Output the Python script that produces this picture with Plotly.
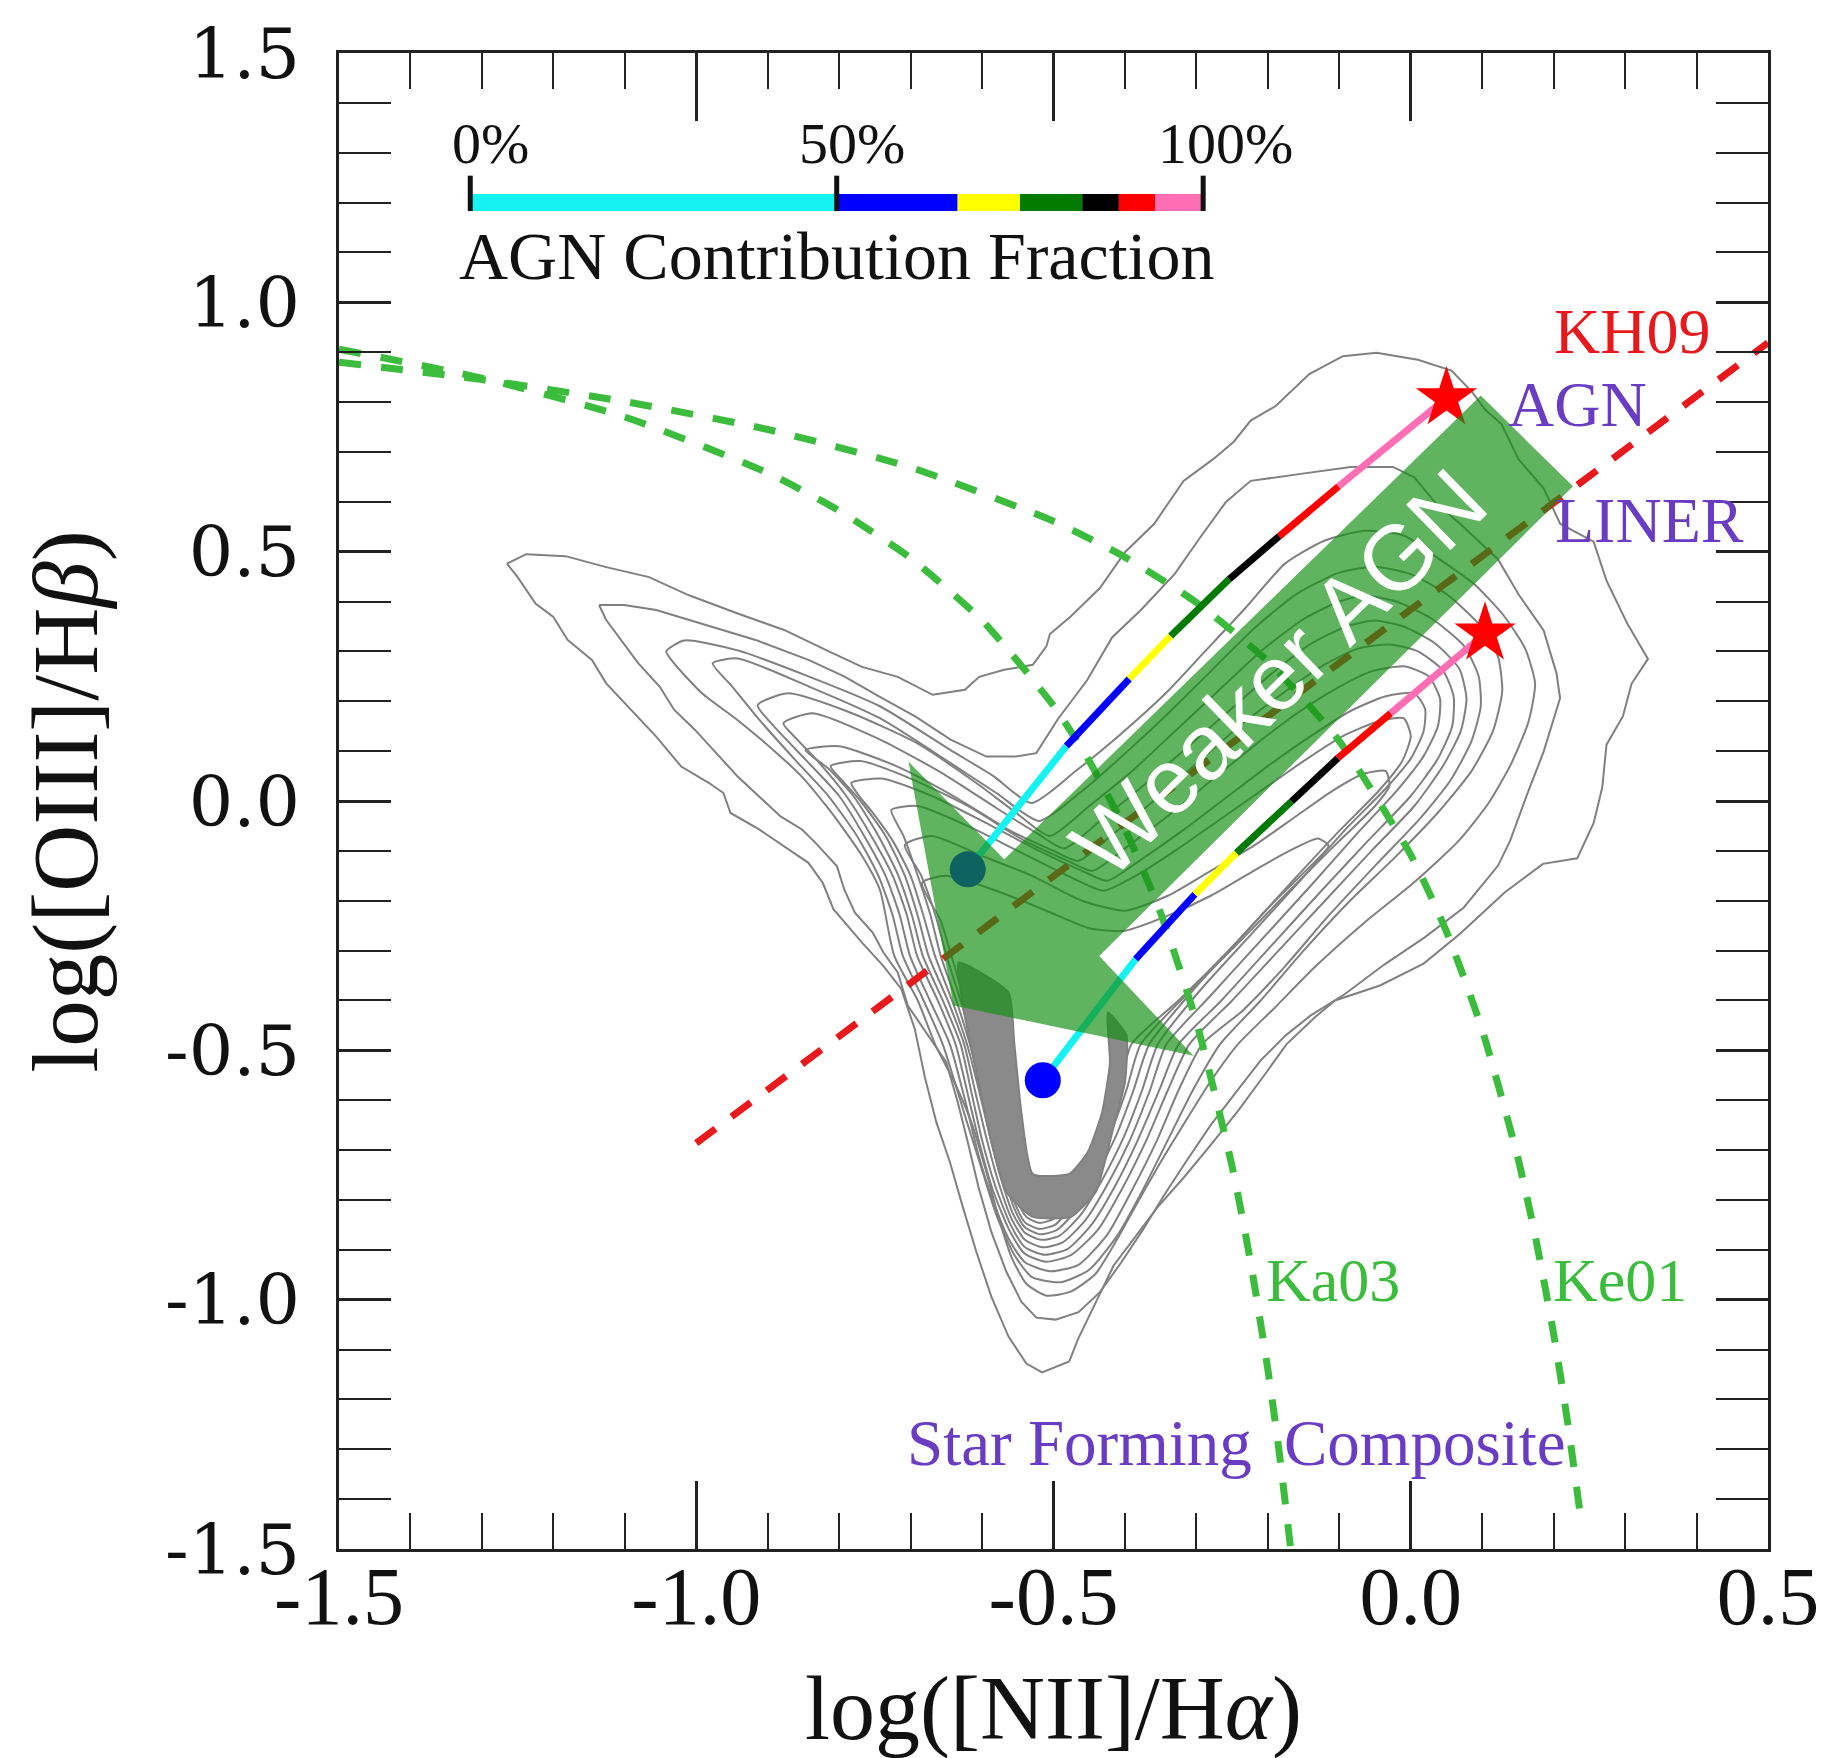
import plotly.graph_objects as go

# ---------------- data ----------------
# Kauffmann 2003 (Ka03) demarcation
ka03_x = [-1.5, -1.3, -1.1, -0.9, -0.8, -0.7, -0.6, -0.5, -0.45, -0.4, -0.35, -0.3, -0.25, -0.225, -0.2, -0.185, -0.168]
ka03_y = [0.906, 0.848, 0.770, 0.658, 0.582, 0.487, 0.362, 0.191, 0.080, -0.056, -0.225, -0.443, -0.733, -0.918, -1.140, -1.296, -1.500]
# Kewley 2001 (Ke01)
ke01_x = [-1.5, -1.3, -1.1, -0.9, -0.7, -0.5, -0.4, -0.3, -0.2, -0.1, 0.0, 0.05, 0.1, 0.15, 0.175, 0.2, 0.22, 0.238]
ke01_y = [0.880, 0.845, 0.801, 0.745, 0.669, 0.561, 0.489, 0.398, 0.280, 0.120, -0.108, -0.262, -0.459, -0.716, -0.878, -1.069, -1.250, -1.439]
# KH09 AGN / LINER division
kh09_x = [-1.0, 0.5]
kh09_y = [-0.686, 0.919]

# AGN contribution fraction (%) at colour changes, and colours
frac_stops = [0, 50, 66.5, 75, 83.5, 88.5, 93.5, 100]
frac_colors = ['#14f2f2', '#0000ff', '#ffff00', '#007a00', '#000000', '#ff0000', '#ff6eb4']
frac_ticks = [0, 50, 100]
frac_labels = ['0%', '50%', '100%']

# mixing sequence 1 (star-forming point -> AGN star), points at colour changes
mix1_x = [-0.620, -0.482, -0.394, -0.336, -0.254, -0.184, -0.101, 0.050]
mix1_y = [-0.137, 0.110, 0.245, 0.331, 0.445, 0.531, 0.631, 0.808]
# mixing sequence 2
mix2_x = [-0.515, -0.385, -0.302, -0.244, -0.167, -0.102, -0.028, 0.104]
mix2_y = [-0.560, -0.317, -0.187, -0.104, -0.001, 0.086, 0.176, 0.336]

# galaxy density contours, outermost first, as (x, y)
c1 = [(-1.265, 0.476), (-1.238, 0.495), (-1.183, 0.491), (-1.126, 0.469), (-1.066, 0.449), (-1.011, 0.413),
      (-0.942, 0.376), (-0.877, 0.343), (-0.813, 0.299), (-0.768, 0.269), (-0.718, 0.249), (-0.669, 0.213),
      (-0.624, 0.223), (-0.604, 0.249), (-0.569, 0.263), (-0.529, 0.273), (-0.510, 0.310), (-0.505, 0.335),
      (-0.476, 0.370), (-0.435, 0.427), (-0.400, 0.499), (-0.359, 0.556), (-0.318, 0.642), (-0.277, 0.685),
      (-0.248, 0.720), (-0.224, 0.763), (-0.189, 0.792), (-0.142, 0.856), (-0.095, 0.892), (-0.048, 0.899),
      (0.010, 0.885), (0.057, 0.863), (0.086, 0.820), (0.104, 0.785), (0.127, 0.756), (0.151, 0.685),
      (0.186, 0.627), (0.209, 0.556), (0.256, 0.520), (0.274, 0.442), (0.303, 0.356), (0.332, 0.285),
      (0.309, 0.235), (0.297, 0.170), (0.274, 0.113), (0.268, 0.027), (0.256, -0.044), (0.233, -0.115),
      (0.185, -0.126), (0.131, -0.184), (0.069, -0.266), (0.018, -0.326), (-0.043, -0.370), (-0.106, -0.400),
      (-0.136, -0.436), (-0.174, -0.488), (-0.204, -0.548), (-0.242, -0.622), (-0.279, -0.688), (-0.317, -0.754),
      (-0.354, -0.814), (-0.385, -0.872), (-0.416, -0.932), (-0.441, -1.006), (-0.466, -1.080), (-0.478, -1.124),
      (-0.516, -1.146), (-0.538, -1.128), (-0.563, -1.074), (-0.587, -0.994), (-0.608, -0.904), (-0.627, -0.814),
      (-0.645, -0.724), (-0.664, -0.644), (-0.680, -0.554), (-0.694, -0.458), (-0.713, -0.377), (-0.738, -0.331),
      (-0.768, -0.284), (-0.808, -0.217), (-0.823, -0.164), (-0.843, -0.124), (-0.877, -0.091), (-0.912, -0.057),
      (-0.952, -0.024), (-0.962, 0.016), (-0.982, 0.036), (-1.021, 0.069), (-1.056, 0.129), (-1.091, 0.183),
      (-1.126, 0.236), (-1.146, 0.283), (-1.180, 0.323), (-1.200, 0.369), (-1.225, 0.396), (-1.250, 0.449),
      (-1.265, 0.476)]
c2 = [(-1.136, 0.393), (-1.101, 0.393), (-1.056, 0.383), (-0.992, 0.356), (-0.917, 0.323), (-0.843, 0.283),
      (-0.793, 0.250), (-0.743, 0.209), (-0.693, 0.169), (-0.644, 0.123), (-0.594, 0.089), (-0.554, 0.089),
      (-0.524, 0.096), (-0.494, 0.164), (-0.453, 0.242), (-0.418, 0.328), (-0.377, 0.384), (-0.330, 0.456),
      (-0.295, 0.528), (-0.259, 0.599), (-0.224, 0.642), (-0.154, 0.656), (-0.084, 0.670), (-0.025, 0.670),
      (0.005, 0.649), (0.034, 0.599), (0.069, 0.556), (0.122, 0.485), (0.151, 0.414), (0.186, 0.342),
      (0.204, 0.256), (0.209, 0.206), (0.186, 0.099), (0.163, 0.014), (0.139, -0.080), (0.122, -0.130),
      (0.074, -0.214), (0.019, -0.274), (-0.037, -0.328), (-0.093, -0.388), (-0.140, -0.430), (-0.175, -0.470),
      (-0.210, -0.520), (-0.245, -0.585), (-0.280, -0.650), (-0.313, -0.720), (-0.345, -0.790), (-0.375, -0.860),
      (-0.405, -0.925), (-0.435, -0.985), (-0.465, -1.025), (-0.497, -1.040), (-0.524, -1.036), (-0.545, -1.004),
      (-0.566, -0.944), (-0.587, -0.864), (-0.605, -0.774), (-0.620, -0.684), (-0.634, -0.604), (-0.650, -0.524),
      (-0.680, -0.460), (-0.704, -0.410), (-0.718, -0.344), (-0.738, -0.304), (-0.753, -0.264), (-0.778, -0.224),
      (-0.793, -0.177), (-0.803, -0.131), (-0.833, -0.084), (-0.852, -0.057), (-0.882, -0.031), (-0.912, 0.009),
      (-0.942, 0.049), (-0.972, 0.096), (-1.002, 0.143), (-1.031, 0.183), (-1.051, 0.229), (-1.081, 0.276),
      (-1.106, 0.323), (-1.126, 0.363), (-1.136, 0.393)]
c3 = [(-1.042, 0.300), (-1.017, 0.322), (-0.942, 0.302), (-0.843, 0.250), (-0.743, 0.190), (-0.644, 0.102),
      (-0.584, 0.050), (-0.531, -0.004), (-0.469, 0.060), (-0.406, 0.134), (-0.343, 0.216), (-0.288, 0.300),
      (-0.232, 0.386), (-0.176, 0.476), (-0.121, 0.522), (-0.065, 0.542), (-0.009, 0.532), (0.039, 0.486),
      (0.088, 0.436), (0.130, 0.372), (0.160, 0.306), (0.174, 0.236), (0.165, 0.160), (0.141, 0.076),
      (0.109, -0.004), (0.067, -0.080), (0.004, -0.164), (-0.065, -0.244), (-0.135, -0.334), (-0.190, -0.414),
      (-0.242, -0.488), (-0.281, -0.564), (-0.316, -0.644), (-0.350, -0.724), (-0.382, -0.804), (-0.413, -0.884),
      (-0.441, -0.948), (-0.476, -0.984), (-0.510, -0.992), (-0.538, -0.968), (-0.559, -0.914), (-0.577, -0.834),
      (-0.594, -0.744), (-0.615, -0.644), (-0.640, -0.560), (-0.665, -0.490), (-0.690, -0.400), (-0.723, -0.310),
      (-0.743, -0.178), (-0.768, -0.110), (-0.793, -0.058), (-0.818, -0.010), (-0.853, 0.050), (-0.892, 0.102),
      (-0.942, 0.162), (-0.992, 0.216), (-1.031, 0.276), (-1.042, 0.300)]
c4 = [(-0.977, 0.276), (-0.942, 0.286), (-0.843, 0.230), (-0.743, 0.166), (-0.644, 0.076), (-0.580, 0.016),
      (-0.520, -0.040), (-0.460, 0.020), (-0.400, 0.095), (-0.340, 0.175), (-0.280, 0.260), (-0.220, 0.345),
      (-0.160, 0.415), (-0.100, 0.458), (-0.051, 0.470), (0.000, 0.455), (0.050, 0.415), (0.095, 0.355),
      (0.122, 0.290), (0.128, 0.220), (0.115, 0.140), (0.085, 0.060), (0.040, -0.020), (-0.020, -0.110),
      (-0.085, -0.200), (-0.150, -0.300), (-0.210, -0.400), (-0.267, -0.488), (-0.305, -0.580), (-0.340, -0.680),
      (-0.375, -0.780), (-0.410, -0.870), (-0.450, -0.940), (-0.490, -0.965), (-0.530, -0.955), (-0.555, -0.910),
      (-0.580, -0.830), (-0.600, -0.740), (-0.622, -0.640), (-0.655, -0.488), (-0.685, -0.390), (-0.711, -0.310),
      (-0.725, -0.230), (-0.745, -0.150), (-0.775, -0.070), (-0.815, 0.010), (-0.860, 0.080), (-0.910, 0.160),
      (-0.950, 0.230), (-0.977, 0.276)]
c5 = [(-0.914, 0.192), (-0.872, 0.216), (-0.789, 0.180), (-0.691, 0.116), (-0.608, 0.036), (-0.552, -0.024),
      (-0.505, -0.070), (-0.450, -0.010), (-0.390, 0.060), (-0.330, 0.140), (-0.270, 0.220), (-0.210, 0.300),
      (-0.150, 0.365), (-0.100, 0.400), (-0.065, 0.412), (-0.020, 0.400), (0.030, 0.365), (0.075, 0.310),
      (0.095, 0.250), (0.098, 0.190), (0.085, 0.120), (0.055, 0.040), (0.010, -0.040), (-0.050, -0.130),
      (-0.115, -0.230), (-0.175, -0.330), (-0.235, -0.420), (-0.292, -0.488), (-0.325, -0.580), (-0.355, -0.680),
      (-0.390, -0.780), (-0.425, -0.870), (-0.465, -0.930), (-0.505, -0.943), (-0.540, -0.925), (-0.562, -0.880),
      (-0.585, -0.800), (-0.605, -0.710), (-0.622, -0.610), (-0.645, -0.488), (-0.673, -0.400), (-0.701, -0.310),
      (-0.715, -0.230), (-0.735, -0.150), (-0.765, -0.070), (-0.800, 0.010), (-0.845, 0.080), (-0.885, 0.140),
      (-0.914, 0.192)]
c6 = [(-0.878, 0.156), (-0.837, 0.176), (-0.747, 0.126), (-0.656, 0.056), (-0.580, -0.014), (-0.524, -0.064),
      (-0.485, -0.095), (-0.435, -0.040), (-0.375, 0.030), (-0.315, 0.105), (-0.255, 0.180), (-0.195, 0.255),
      (-0.140, 0.315), (-0.090, 0.350), (-0.051, 0.362), (-0.010, 0.350), (0.035, 0.315), (0.068, 0.265),
      (0.078, 0.205), (0.070, 0.140), (0.045, 0.070), (0.005, -0.010), (-0.055, -0.100), (-0.120, -0.200),
      (-0.185, -0.300), (-0.250, -0.400), (-0.310, -0.488), (-0.340, -0.580), (-0.370, -0.680), (-0.403, -0.775),
      (-0.438, -0.860), (-0.475, -0.910), (-0.510, -0.924), (-0.540, -0.908), (-0.562, -0.860), (-0.585, -0.780),
      (-0.603, -0.690), (-0.618, -0.600), (-0.637, -0.488), (-0.662, -0.400), (-0.691, -0.310), (-0.705, -0.230),
      (-0.725, -0.150), (-0.755, -0.070), (-0.790, 0.010), (-0.830, 0.080), (-0.860, 0.125), (-0.878, 0.156)]
c7 = [(-0.847, 0.102), (-0.800, 0.110), (-0.720, 0.070), (-0.640, 0.010), (-0.560, -0.060), (-0.500, -0.100),
      (-0.465, -0.120), (-0.420, -0.070), (-0.360, 0.000), (-0.300, 0.075), (-0.240, 0.150), (-0.180, 0.215),
      (-0.125, 0.270), (-0.075, 0.305), (-0.030, 0.314), (0.010, 0.300), (0.045, 0.262), (0.060, 0.210),
      (0.058, 0.150), (0.038, 0.085), (0.000, 0.010), (-0.060, -0.080), (-0.125, -0.180), (-0.195, -0.290),
      (-0.265, -0.400), (-0.325, -0.488), (-0.352, -0.580), (-0.382, -0.680), (-0.413, -0.770), (-0.447, -0.850),
      (-0.480, -0.898), (-0.512, -0.910), (-0.540, -0.895), (-0.560, -0.850), (-0.582, -0.770), (-0.600, -0.680),
      (-0.614, -0.590), (-0.630, -0.488), (-0.655, -0.400), (-0.683, -0.310), (-0.698, -0.230), (-0.717, -0.150),
      (-0.745, -0.070), (-0.780, 0.010), (-0.815, 0.065), (-0.847, 0.102)]
c8 = [(-0.812, 0.070), (-0.770, 0.080), (-0.700, 0.045), (-0.620, -0.010), (-0.540, -0.080), (-0.480, -0.120),
      (-0.445, -0.140), (-0.400, -0.095), (-0.340, -0.030), (-0.280, 0.040), (-0.220, 0.110), (-0.160, 0.175),
      (-0.105, 0.225), (-0.055, 0.260), (-0.009, 0.270), (0.025, 0.250), (0.041, 0.205), (0.038, 0.150),
      (0.018, 0.090), (-0.020, 0.020), (-0.075, -0.065), (-0.140, -0.170), (-0.210, -0.280), (-0.280, -0.390),
      (-0.342, -0.488), (-0.365, -0.580), (-0.393, -0.680), (-0.423, -0.765), (-0.455, -0.840), (-0.487, -0.885),
      (-0.515, -0.895), (-0.540, -0.880), (-0.558, -0.840), (-0.578, -0.760), (-0.595, -0.670), (-0.610, -0.580),
      (-0.625, -0.488), (-0.648, -0.400), (-0.675, -0.310), (-0.690, -0.230), (-0.708, -0.150), (-0.735, -0.070),
      (-0.770, 0.000), (-0.795, 0.040), (-0.812, 0.070)]
c9 = [(-0.783, 0.036), (-0.740, 0.045), (-0.670, 0.010), (-0.600, -0.040), (-0.520, -0.100), (-0.460, -0.140),
      (-0.425, -0.160), (-0.380, -0.120), (-0.320, -0.060), (-0.260, 0.005), (-0.200, 0.070), (-0.140, 0.130),
      (-0.085, 0.180), (-0.035, 0.210), (0.005, 0.216), (0.020, 0.185), (0.018, 0.140), (0.000, 0.085),
      (-0.035, 0.025), (-0.090, -0.055), (-0.155, -0.160), (-0.225, -0.270), (-0.295, -0.380), (-0.354, -0.488),
      (-0.376, -0.580), (-0.402, -0.675), (-0.432, -0.760), (-0.462, -0.830), (-0.492, -0.872), (-0.517, -0.880),
      (-0.540, -0.866), (-0.556, -0.830), (-0.575, -0.750), (-0.591, -0.660), (-0.606, -0.570), (-0.621, -0.488),
      (-0.642, -0.400), (-0.666, -0.310), (-0.682, -0.230), (-0.700, -0.150), (-0.725, -0.080), (-0.755, -0.020),
      (-0.772, 0.010), (-0.783, 0.036)]
c10 = [(-0.727, -0.018), (-0.690, -0.010), (-0.620, -0.050), (-0.550, -0.100), (-0.480, -0.150), (-0.430, -0.180),
       (-0.385, -0.150), (-0.330, -0.100), (-0.270, -0.040), (-0.210, 0.020), (-0.150, 0.080), (-0.095, 0.130),
       (-0.045, 0.160), (-0.010, 0.166), (0.000, 0.130), (-0.012, 0.080), (-0.045, 0.020), (-0.100, -0.060),
       (-0.165, -0.160), (-0.235, -0.270), (-0.305, -0.380), (-0.366, -0.488), (-0.388, -0.580), (-0.412, -0.670),
       (-0.440, -0.750), (-0.468, -0.820), (-0.495, -0.860), (-0.518, -0.869), (-0.540, -0.855), (-0.554, -0.820),
       (-0.572, -0.740), (-0.588, -0.650), (-0.603, -0.565), (-0.617, -0.488), (-0.636, -0.400), (-0.658, -0.310),
       (-0.672, -0.230), (-0.690, -0.150), (-0.710, -0.070), (-0.727, -0.018)]
c11 = [(-0.708, -0.088), (-0.670, -0.070), (-0.600, -0.110), (-0.530, -0.150), (-0.460, -0.200), (-0.400, -0.220),
       (-0.340, -0.190), (-0.280, -0.140), (-0.220, -0.090), (-0.160, -0.030), (-0.110, 0.020), (-0.065, 0.055),
       (-0.035, 0.060), (-0.030, 0.030), (-0.050, -0.010), (-0.100, -0.080), (-0.170, -0.180), (-0.245, -0.290),
       (-0.315, -0.390), (-0.378, -0.488), (-0.398, -0.580), (-0.420, -0.665), (-0.447, -0.745), (-0.474, -0.812),
       (-0.498, -0.850), (-0.520, -0.858), (-0.540, -0.845), (-0.553, -0.810), (-0.570, -0.730), (-0.585, -0.640),
       (-0.600, -0.560), (-0.613, -0.488), (-0.630, -0.400), (-0.650, -0.310), (-0.665, -0.230), (-0.685, -0.150),
       (-0.708, -0.088)]
c12 = [(-0.684, -0.164), (-0.650, -0.150), (-0.580, -0.180), (-0.510, -0.220), (-0.450, -0.255), (-0.400, -0.260),
       (-0.340, -0.230), (-0.280, -0.190), (-0.220, -0.140), (-0.170, -0.100), (-0.130, -0.075), (-0.115, -0.090),
       (-0.140, -0.130), (-0.190, -0.200), (-0.255, -0.300), (-0.325, -0.400), (-0.391, -0.488), (-0.408, -0.580),
       (-0.428, -0.660), (-0.453, -0.735), (-0.478, -0.800), (-0.500, -0.838), (-0.520, -0.846), (-0.538, -0.834),
       (-0.551, -0.800), (-0.567, -0.720), (-0.582, -0.630), (-0.596, -0.550), (-0.610, -0.488), (-0.625, -0.400),
       (-0.643, -0.310), (-0.658, -0.240), (-0.684, -0.164)]
# densely packed core of the star-forming branch (appears solid grey)
core = [(-0.633, -0.324), (-0.625, -0.424), (-0.608, -0.544), (-0.587, -0.684), (-0.566, -0.784), (-0.529, -0.834),
        (-0.476, -0.834), (-0.441, -0.784), (-0.416, -0.654), (-0.400, -0.564), (-0.398, -0.470), (-0.424, -0.424),
        (-0.421, -0.524), (-0.432, -0.624), (-0.452, -0.704), (-0.478, -0.748), (-0.529, -0.748), (-0.545, -0.624),
        (-0.555, -0.484), (-0.563, -0.384), (-0.633, -0.324)]
contours = [c1, c2, c3, c4, c5, c6, c7, c8, c9, c10, c11, c12]

# "Weaker AGN" arrow outline
arrow_x = [0.098, 0.227, -0.436, -0.304, -0.640, -0.703, -0.569, 0.098]
arrow_y = [0.813, 0.631, -0.311, -0.511, -0.410, 0.079, -0.117, 0.813]

# ---------------- styles ----------------
SERIF = 'Liberation Serif, Times New Roman, serif'
PURPLE = '#6a3cc4'
GREEN = '#3cbc3c'
RED = '#e8191c'
GRAY = '#808080'

fig = go.Figure()

for k, ring in enumerate(contours):
    fig.add_trace(go.Scatter(x=[p[0] for p in ring], y=[p[1] for p in ring], mode='lines',
                             line=dict(color=GRAY, width=2, shape='linear' if k < 2 else 'spline', smoothing=0.6),
                             hoverinfo='skip', showlegend=False))
fig.add_trace(go.Scatter(x=[p[0] for p in core], y=[p[1] for p in core], mode='lines', fill='toself',
                         fillcolor='#8a8a8a', line=dict(color=GRAY, width=2, shape='spline', smoothing=0.5),
                         hoverinfo='skip', showlegend=False))

for lx, ly in [(ka03_x, ka03_y), (ke01_x, ke01_y)]:
    fig.add_trace(go.Scatter(x=lx, y=ly, mode='lines',
                             line=dict(color=GREEN, width=7, dash='22px,20px', shape='spline', smoothing=0.6),
                             hoverinfo='skip', showlegend=False))
fig.add_trace(go.Scatter(x=kh09_x, y=kh09_y, mode='lines',
                         line=dict(color=RED, width=7, dash='24px,20px'), hoverinfo='skip', showlegend=False))

for mx, my in [(mix1_x, mix1_y), (mix2_x, mix2_y)]:
    for i in range(len(frac_colors)):
        fig.add_trace(go.Scatter(x=mx[i:i + 2], y=my[i:i + 2], mode='lines',
                                 line=dict(color=frac_colors[i], width=7), hoverinfo='skip', showlegend=False))

# end points: pure star formation (circles) and pure AGN (stars)
fig.add_trace(go.Scatter(x=[mix1_x[0], mix2_x[0]], y=[mix1_y[0], mix2_y[0]], mode='markers',
                         marker=dict(color='#0000ff', size=36, line=dict(width=0)), showlegend=False))
fig.add_trace(go.Scatter(x=[mix1_x[-1], mix2_x[-1]], y=[mix1_y[-1], mix2_y[-1]], mode='markers',
                         marker=dict(color='#ff0000', symbol='star', size=46, line=dict(width=0)), showlegend=False))

# translucent arrow
fig.add_trace(go.Scatter(x=arrow_x, y=arrow_y, mode='lines', fill='toself',
                         fillcolor='rgba(20,145,20,0.68)', line=dict(width=0),
                         hoverinfo='skip', showlegend=False))

# colour bar on an overlaid percent axis
CB_Y = 1.200
for i in range(len(frac_colors)):
    fig.add_trace(go.Scatter(x=frac_stops[i:i + 2], y=[CB_Y, CB_Y], xaxis='x2', yaxis='y', mode='lines',
                             line=dict(color=frac_colors[i], width=17), hoverinfo='skip', showlegend=False))
for t in frac_ticks:
    fig.add_trace(go.Scatter(x=[t, t], y=[1.183, 1.254], xaxis='x2', yaxis='y', mode='lines',
                             line=dict(color='#111111', width=5), hoverinfo='skip', showlegend=False))

ann = []
for t, lab, xs in zip(frac_ticks, frac_labels, [20, 15, 22]):
    ann.append(dict(x=t, y=1.318, xref='x2', yref='y', text=lab, showarrow=False, xshift=xs,
                    font=dict(family=SERIF, size=58, color='#111111'), xanchor='center', yanchor='middle'))
ann.append(dict(x=50, y=1.092, xref='x2', yref='y', text='AGN Contribution Fraction', showarrow=False,
                font=dict(family=SERIF, size=68, color='#111111'), xanchor='center', yanchor='middle'))

labels = [
    ('KH09', 0.309, 0.942, RED, 64),
    ('AGN', 0.234, 0.796, PURPLE, 64),
    ('LINER', 0.334, 0.562, PURPLE, 64),
    ('Ka03', -0.109, -0.960, GREEN, 62),
    ('Ke01', 0.293, -0.960, GREEN, 62),
    ('Star Forming', -0.463, -1.288, PURPLE, 65),
    ('Composite', 0.020, -1.288, PURPLE, 65),
]
for txt, x, y, col, sz in labels:
    ann.append(dict(x=x, y=y, xref='x', yref='y', text=txt, showarrow=False, borderpad=0,
                    font=dict(family=SERIF, size=sz, color=col), xanchor='center', yanchor='middle'))

ann.append(dict(x=-0.185, y=0.257, xref='x', yref='y', text='Weaker AGN', showarrow=False, textangle=-44.3,
                font=dict(family='Liberation Sans, Arial, sans-serif', size=92, color='white'),
                xanchor='center', yanchor='middle'))

# axis titles
ann.append(dict(x=0.5, y=-0.107, xref='paper', yref='paper', text='log([NII]/H<i>α</i>)', showarrow=False,
                font=dict(family=SERIF, size=90, color='#111111'), xanchor='center', yanchor='middle'))
ann.append(dict(x=-0.1914, y=0.5, xref='paper', yref='paper', text='log([OIII]/H<i>β</i>)', showarrow=False,
                textangle=-90, font=dict(family=SERIF, size=93, color='#111111'),
                xanchor='center', yanchor='middle'))

x_ticks = [-1.5, -1.0, -0.5, 0.0, 0.5]
y_ticks = [-1.5, -1.0, -0.5, 0.0, 0.5, 1.0, 1.5]

fig.update_layout(
    width=1831, height=1758,
    margin=dict(l=339, r=55, t=48, b=209),
    paper_bgcolor='white', plot_bgcolor='white',
    showlegend=False,
    annotations=ann,
    xaxis=dict(range=[-1.5, 0.5], tickvals=x_ticks, ticktext=['%.1f' % v for v in x_ticks],
               ticks='inside', ticklen=68, tickwidth=2.5, tickcolor='#222222',
               minor=dict(dtick=0.1, ticks='inside', ticklen=36, tickwidth=2, tickcolor='#222222'),
               mirror='allticks', showline=True, linewidth=3, linecolor='#222222',
               showgrid=False, zeroline=False, ticklabelstandoff=-26,
               tickfont=dict(family=SERIF, size=82, color='#111111')),
    yaxis=dict(range=[-1.5, 1.5], tickvals=y_ticks, ticktext=['%.1f' % v for v in y_ticks],
               ticks='inside', ticklen=52, tickwidth=2.5, tickcolor='#222222',
               minor=dict(dtick=0.1, ticks='inside', ticklen=27, tickwidth=2, tickcolor='#222222'),
               mirror='allticks', showline=True, linewidth=3, linecolor='#222222',
               showgrid=False, zeroline=False, ticklabelstandoff=22,
               tickfont=dict(family='DejaVu Serif, serif', size=70, color='#111111')),
    xaxis2=dict(range=[-17.91, 177.07], overlaying='x', anchor='y', visible=False,
                showgrid=False, zeroline=False),
)

fig.write_html('out.html')
